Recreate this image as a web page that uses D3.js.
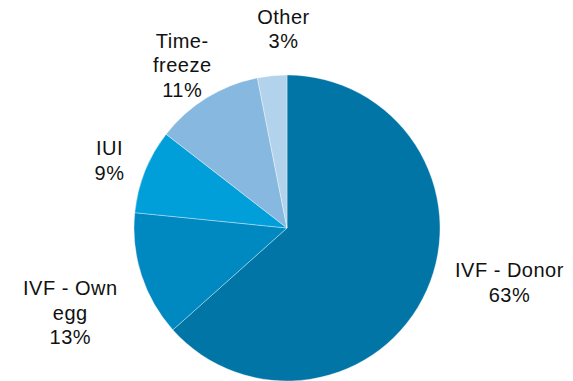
<!DOCTYPE html>
<html>
<head>
<meta charset="utf-8">
<script src="https://cdn.jsdelivr.net/npm/d3@7"></script>
<style>
  body { margin: 0; background: #fff; }
  svg { display: block; }
</style>
</head>
<body>
<div id="svg-container"></div>
<script>
// slice order: clockwise from 12 o'clock
const categories = ["IVF - Donor", "IVF - Own egg", "IUI", "Time-freeze", "Other"]
const labelLines = [["IVF - Donor"], ["IVF - Own", "egg"], ["IUI"], ["Time-", "freeze"], ["Other"]]
const shares = [63.4, 13.2, 8.9, 11.4, 3.1]
const colors = ["#0075a6", "#0089c1", "#009fd9", "#87b8df", "#b3d2eb"]

const width = 573
const height = 381
const cx = 287, cy = 228
const radius = 153
const fontSize = 20
const lineH = 24.5

// small nudges so the labels sit where the original tool put them
const labelNudge = {
  "IVF - Donor": [49, -23],
  "IVF - Own egg": [-36, 26],
  "IUI": [-1, 3],
  "Time-freeze": [-5, -1],
  "Other": [15, -10]
}

const svg = d3.select("#svg-container")
  .append("svg")
    .attr("width", width)
    .attr("height", height)

const data = categories.map((c, i) => ({
  name: c,
  lines: labelLines[i],
  value: shares[i],
  color: colors[i]
}))

const pie = d3.pie()
  .sort(null)
  .value(d => d.value)

const arc = d3.arc()
  .innerRadius(0)
  .outerRadius(radius)

const labelArc = d3.arc()
  .innerRadius(190)
  .outerRadius(190)

const g = svg.append("g")
  .attr("transform", `translate(${cx}, ${cy})`)

const arcs = pie(data)

g.selectAll("path")
  .data(arcs)
  .join("path")
    .attr("d", arc)
    .attr("fill", d => d.data.color)
    .attr("stroke", "rgba(255,255,255,0.45)")
    .attr("stroke-width", 0.8)

const label = g.selectAll("text")
  .data(arcs)
  .join("text")
    .attr("text-anchor", "middle")
    .style("font-family", "'Liberation Sans', Arial, sans-serif")
    .style("font-size", fontSize + "px")
    .style("letter-spacing", "0.5px")
    .attr("fill", "#111")
    .attr("transform", d => {
      const [x, y] = labelArc.centroid(d)
      const n = labelNudge[d.data.name]
      return `translate(${x + n[0]}, ${y + n[1]})`
    })

label.each(function(d) {
  const lines = d.data.lines.concat([Math.round(d.data.value) + "%"])
  const y0 = -(lines.length - 1) * lineH / 2 + fontSize * 0.35
  d3.select(this).selectAll("tspan")
    .data(lines)
    .join("tspan")
      .attr("x", 0)
      .attr("y", (t, i) => y0 + i * lineH)
      .text(t => t)
})
</script>
</body>
</html>
